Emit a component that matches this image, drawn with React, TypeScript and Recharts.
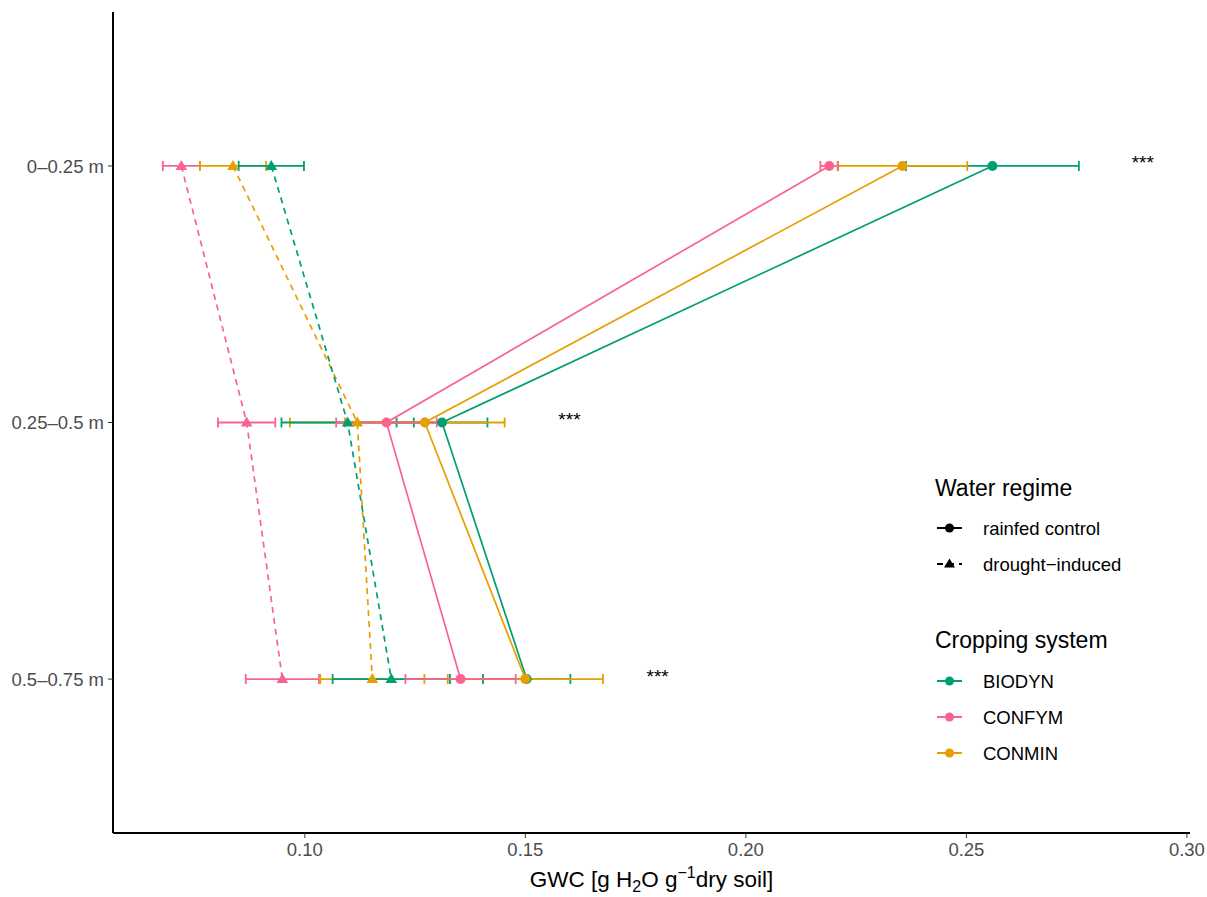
import React from "react";
import { LineChart, Line, XAxis, YAxis, ErrorBar, Legend, LabelList } from "recharts";

const depths = ["0–0.25 m", "0.25–0.5 m", "0.5–0.75 m"];

// rainfed control (mean, sd)
const biodynRain = [0.2559, 0.1311, 0.1503];
const biodynRainErr = [0.0196, 0.0103, 0.0099];
const confymRain = [0.2189, 0.1185, 0.1353];
const confymRainErr = [0.002, 0.0114, 0.0125];
const conminRain = [0.2355, 0.1272, 0.15];
const conminRainErr = [0.0147, 0.0181, 0.0176];

// drought-induced (mean, sd)
const biodynDrought = [0.0924, 0.1097, 0.1196];
const biodynDroughtErr = [0.0074, 0.015, 0.0133];
const confymDrought = [0.072, 0.0868, 0.0949];
const confymDroughtErr = [0.0042, 0.0065, 0.0083];
const conminDrought = [0.0837, 0.1119, 0.1153];
const conminDroughtErr = [0.0075, 0.0153, 0.0118];

// position of the significance stars
const sigPos = [0.29, 0.16, 0.18];
const sigText = ["***", "***", "***"];

const xTicks = [0.1, 0.15, 0.2, 0.25, 0.3];

const COLORS = { BIODYN: "#009E73", CONFYM: "#F8648F", CONMIN: "#E69F00" };
const FONT = "'Liberation Sans', Arial, Helvetica, sans-serif";

const rows = depths.map((depth, i) => ({
  depth,
  pos: i + 1,
  biodynRain: biodynRain[i],
  biodynRainErr: biodynRainErr[i],
  confymRain: confymRain[i],
  confymRainErr: confymRainErr[i],
  conminRain: conminRain[i],
  conminRainErr: conminRainErr[i],
  biodynDrought: biodynDrought[i],
  biodynDroughtErr: biodynDroughtErr[i],
  confymDrought: confymDrought[i],
  confymDroughtErr: confymDroughtErr[i],
  conminDrought: conminDrought[i],
  conminDroughtErr: conminDroughtErr[i],
  sig: sigPos[i],
  sigLabel: sigText[i],
}));

const series = [
  { key: "confymDrought", color: COLORS.CONFYM, drought: true },
  { key: "conminDrought", color: COLORS.CONMIN, drought: true },
  { key: "biodynDrought", color: COLORS.BIODYN, drought: true },
  { key: "biodynRain", color: COLORS.BIODYN, drought: false },
  { key: "conminRain", color: COLORS.CONMIN, drought: false },
  { key: "confymRain", color: COLORS.CONFYM, drought: false },
];

const makeDot = (color: string, drought: boolean) => (props: any) => {
  const { cx, cy, index } = props;
  if (cx == null || cy == null) return <g key={index} />;
  if (drought) {
    return (
      <path
        key={index}
        d={`M${cx},${cy - 6} L${cx + 5.8},${cy + 4} L${cx - 5.8},${cy + 4} Z`}
        fill={color}
      />
    );
  }
  return <circle key={index} cx={cx} cy={cy} r={5} fill={color} />;
};

const XTitle = (props: any) => {
  const vb = props.viewBox || {};
  const x = vb.x + vb.width / 2;
  return (
    <text x={x} y={887} textAnchor="middle" fontSize={22.5} fill="#000" fontFamily={FONT}>
      GWC [g H
      <tspan dy={5} fontSize={16}>2</tspan>
      <tspan dy={-5}>O g</tspan>
      <tspan dy={-9} fontSize={16}>−1</tspan>
      <tspan dy={9}>dry soil]</tspan>
    </text>
  );
};

const Stars = (props: any) => {
  const { x, y, value } = props;
  return (
    <text x={x} y={y - 3} textAnchor="middle" dominantBaseline="central" fontSize={19} fill="#000" fontFamily={FONT}>
      {value}
    </text>
  );
};

const LegendBox = () => {
  const item = (y: number, color: string, label: string, drought: boolean) => (
    <g key={label}>
      <line x1={17} x2={42} y1={y} y2={y} stroke={color} strokeWidth={2} strokeDasharray={drought ? "6 5" : undefined} />
      {drought ? (
        <path d={`M29.5,${y - 5.5} L35,${y + 3.5} L24,${y + 3.5} Z`} fill={color} />
      ) : (
        <circle cx={29.5} cy={y} r={4.5} fill={color} />
      )}
      <text x={63} y={y} dominantBaseline="central" fontSize={18.5} fontFamily={FONT} fill="#000">
        {label}
      </text>
    </g>
  );
  return (
    <svg width={280} height={310}>
      <text x={15} y={18} dominantBaseline="central" fontSize={23} fontFamily={FONT} fill="#000">
        Water regime
      </text>
      {item(58, "#000", "rainfed control", false)}
      {item(94, "#000", "drought−induced", true)}
      <text x={15} y={170} dominantBaseline="central" fontSize={23} fontFamily={FONT} fill="#000">
        Cropping system
      </text>
      {item(211, COLORS.BIODYN, "BIODYN", false)}
      {item(247, COLORS.CONFYM, "CONFYM", false)}
      {item(283, COLORS.CONMIN, "CONMIN", false)}
    </svg>
  );
};

export default function App() {
  return (
    <div style={{ position: "absolute", left: 0, top: 0, background: "#fff" }}>
      <LineChart
        width={1207}
        height={897}
        data={rows}
        layout="vertical"
        margin={{ top: 12, right: 17, bottom: 0, left: 0 }}
        style={{ fontFamily: FONT }}
      >
        <XAxis
          type="number"
          domain={[0.0565, 0.3007]}
          ticks={xTicks}
          allowDataOverflow
          height={64}
          tickFormatter={(v: number) => v.toFixed(2)}
          tick={{ fontSize: 18.5, fill: "#4d4d4d" }}
          tickSize={5}
          tickMargin={5}
          axisLine={{ stroke: "#000", strokeWidth: 2 }}
          tickLine={{ stroke: "#333" }}
          label={<XTitle />}
        />
        <YAxis
          type="number"
          dataKey="pos"
          domain={[0.4, 3.6]}
          ticks={[1, 2, 3]}
          allowDataOverflow
          tickFormatter={(v: number) => depths[v - 1] ?? ""}
          width={113}
          tick={{ fontSize: 18.5, fill: "#4d4d4d" }}
          tickSize={5}
          tickMargin={4}
          axisLine={{ stroke: "#000", strokeWidth: 2 }}
          tickLine={{ stroke: "#333" }}
        />
        {series.map((s) => (
          <Line
            key={s.key}
            dataKey={s.key}
            stroke={s.color}
            strokeWidth={1.7}
            strokeDasharray={s.drought ? "6 5" : undefined}
            dot={makeDot(s.color, s.drought)}
            activeDot={false}
            isAnimationActive={false}
          >
            <ErrorBar dataKey={`${s.key}Err`} direction="x" width={5} stroke={s.color} strokeWidth={1.8} />
          </Line>
        ))}
        <Line dataKey="sig" stroke="none" dot={false} activeDot={false} isAnimationActive={false}>
          <LabelList dataKey="sigLabel" content={<Stars />} />
        </Line>
        <Legend
          layout="horizontal"
          verticalAlign="middle"
          align="center"
          wrapperStyle={{ position: "absolute", left: 920, top: 470, width: 280, height: 310 }}
          content={() => <LegendBox />}
        />
      </LineChart>
    </div>
  );
}
